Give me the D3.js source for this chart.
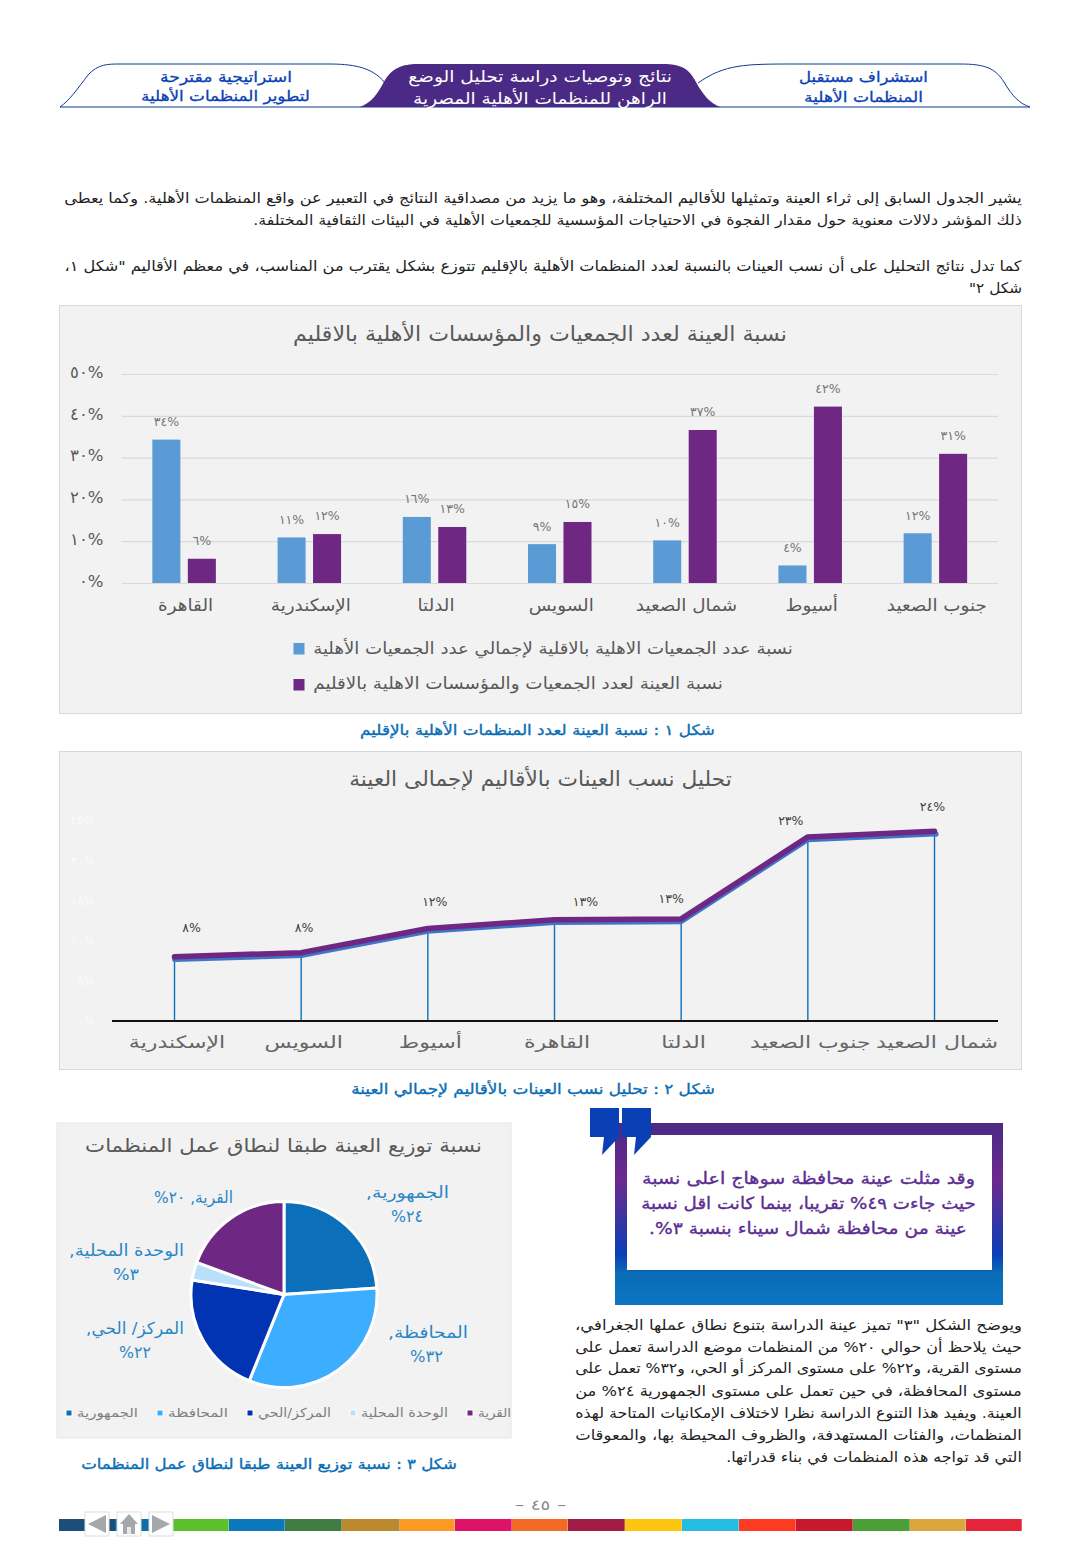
<!DOCTYPE html>
<html lang="ar"><head><meta charset="utf-8">
<script src="https://cdn.jsdelivr.net/npm/d3@7/dist/d3.min.js"></script>
<style>html,body{margin:0;padding:0;background:#fff}svg{display:block}text{font-family:"DejaVu Sans","Noto Sans",sans-serif}</style>
</head><body><svg id="page" width="1080" height="1560"></svg>
<script>
// ---- data ----
const regionsBar = ['القاهرة','الإسكندرية','الدلتا','السويس','شمال الصعيد','أسيوط','جنوب الصعيد'];
const orgShare = [34.3,10.9,15.8,9.3,10.2,4.2,11.9];
const sampleShare = [5.8,11.7,13.4,14.6,36.6,42.2,30.9];
const orgShareLabels = [34,11,16,9,10,4,12];
const sampleShareLabels = [6,12,13,15,37,42,31];
const barTicks = [0,10,20,30,40,50];
const seriesNames = ['نسبة عدد الجمعيات الاهلية بالاقلية لإجمالي عدد الجمعيات الأهلية','نسبة العينة لعدد الجمعيات والمؤسسات الاهلية بالاقليم'];

const regionsLine = ['الإسكندرية','السويس','أسيوط','القاهرة','الدلتا','جنوب الصعيد','شمال الصعيد'];
const linePurple = [8.0,8.5,11.5,12.6,12.7,22.9,23.6];
const lineBlue = [7.65,8.15,11.15,12.25,12.35,22.55,23.25];
const lineLabels = [8,8,12,13,13,23,24];
const lineTicks = [0,5,10,15,20,25];

const scopes = ['الجمهورية','المحافظة','المركز/ الحي','الوحدة المحلية','القرية'];
const scopeShares = [23.9,32.2,21.4,3.1,19.4];
const scopeLabels = [24,32,22,3,20];

// ---- styling / layout (not data) ----
const C = {purple:'#6e2783',blue:'#5b9bd5',grey:'#595959',cap:'#0a6db5',tab:'#0a3fb5',panel:'#f2f2f2',rule:'#d9d9d9',body:'#222'};
const pieColors = ['#0b70b9','#3dadff','#0233b3','#badffa','#6e2783'];
const barLabelDy = 18;
const lineLabelOffsets = [[17,-29],[3,-25],[7,-27],[31,-18],[-10,-20],[-17,-16],[-2,-25]];
const footerColors = ['#5bbf2e','#0b78bd','#3f7d45','#bb8a2f','#fb9b25','#dd1367','#f26a26','#a01c44','#fdc50f','#26bde2','#fd3a22','#c5192d','#4c9f38','#dba63c','#e5243b'];
const footerStarts = [172,229,285,342,400,455,512,568,625,682,739,796,853,910,966,1022];

const ar = v => String(v).replace(/\d/g, d => '٠١٢٣٤٥٦٧٨٩'[d]);
const svg = d3.select('#page');
const defs = svg.append('defs');
const grad = defs.append('linearGradient').attr('id','frame').attr('x1',0).attr('x2',0).attr('y1',0).attr('y2',1);
[[0,'#4c2a84'],[0.32,'#6b2a8e'],[0.72,'#0a3fb5'],[0.82,'#0a6ab5'],[1,'#0b76c4']].forEach(([o,c])=>grad.append('stop').attr('offset',o).attr('stop-color',c));

// text helper: right-to-left line fitted to span x0..x1 (the reference face is wide,
// so glyphs are stretched a little, then word spacing takes up what is left)
function line(str,x0,x1,y,size,fill,medium){
  const cx=(x0+x1)/2, W=x1-x0;
  const t = svg.append('text').attr('x',0).attr('y',y).attr('dy','.35em')
    .attr('text-anchor','middle').attr('direction','rtl').attr('font-size',size)
    .attr('fill',fill).text(str);
  if(medium) t.attr('stroke',fill).attr('stroke-width',medium);
  let len = t.node().getComputedTextLength();
  const sx = Math.max(0.92,Math.min(1.3,W/len));
  len *= sx;
  const sp = (str.match(/ /g)||[]).length;
  if(sp) t.style('word-spacing',((W-len)/sp/sx)+'px');
  t.attr('transform',`translate(${cx},0) scale(${sx},1)`);
  return t;
}

// ---- header tabs ----
const tabs = svg.append('g');
tabs.append('path').attr('d','M698,83 C725,64 745,64 796,64 L960,64 C985,64 995,68 1004,82 C1012,96 1020,104 1030,107 L60,107 C70,100 78,88 88,75 C98,64 108,64 120,64 L328,64 C350,64 372,66 385,83').attr('fill','none').attr('stroke','#0a3d91').attr('stroke-width',1);
tabs.append('path').attr('d','M360,107 C372,102 377,95 385,80 C394,66 405,64 420,64 L660,64 C678,64 688,66 696,82 C703,95 710,103 720,107 Z').attr('fill','#4b2a85');
line('استشراف مستقبل',799,928,77,14.5,C.tab,0.3);
line('المنظمات الأهلية',804,923,97,14.5,C.tab,0.3);
line('نتائج وتوصيات دراسة تحليل الوضع',408,672,76,16,'#fff');
line('الراهن للمنظمات الأهلية المصرية',413,667,98,16,'#fff');
line('استراتيجية مقترحة',160,292,77,14.5,C.tab,0.3);
line('لتطوير المنظمات الأهلية',141,310,96,14.5,C.tab,0.3);

// ---- intro paragraphs ----
line('يشير الجدول السابق إلى ثراء العينة وتمثيلها للأقاليم المختلفة، وهو ما يزيد من مصداقية النتائج في التعبير عن واقع المنظمات الأهلية. وكما يعطى',64,1022,198,14.5,C.body);
line('ذلك المؤشر دلالات معنوية حول مقدار الفجوة في الاحتياجات المؤسسية للجمعيات الأهلية في البيئات الثقافية المختلفة.',253,1022,220,14.5,C.body);
line('كما تدل نتائج التحليل على أن نسب العينات بالنسبة لعدد المنظمات الأهلية بالإقليم تتوزع بشكل يقترب من المناسب، في معظم الأقاليم "شكل ١،',64,1022,266,14.5,C.body);
line('شكل ٢"',969,1022,288,14.5,C.body);

// ---- chart 1: grouped bars ----
svg.append('rect').attr('x',59.5).attr('y',305.5).attr('width',962).attr('height',408).attr('fill',C.panel).attr('stroke',C.rule);
line('نسبة العينة لعدد الجمعيات والمؤسسات الأهلية بالاقليم',293,787,334,21,C.grey);
const x0 = d3.scaleBand().domain(regionsBar).range([121.5,998]);
const x1 = d3.scaleBand().domain([0,1]).range([0,x0.bandwidth()]).paddingInner(0.21).paddingOuter(0.87);
const y1 = d3.scaleLinear().domain([0,50]).range([583,374]);
const yAxis1 = svg.append('g').attr('transform','translate(121.5,0)')
  .call(d3.axisLeft(y1).tickValues(barTicks).tickSize(-876.5).tickPadding(18).tickFormat(d=>ar(d)+'%'));
yAxis1.select('.domain').remove();
yAxis1.selectAll('.tick line').attr('stroke',C.rule).attr('stroke-width',1.2);
yAxis1.selectAll('.tick text').attr('direction','ltr').attr('font-size',16.5).attr('fill',C.grey).attr('dy','.2em');
const barSeries = [{v:orgShare,l:orgShareLabels,c:C.blue},{v:sampleShare,l:sampleShareLabels,c:C.purple}];
barSeries.forEach((s,i)=>{
  const g = svg.append('g');
  g.selectAll('rect').data(regionsBar).join('rect')
    .attr('x',d=>x0(d)+x1(i)).attr('width',x1.bandwidth())
    .attr('y',(d,k)=>y1(s.v[k])).attr('height',(d,k)=>y1(0)-y1(s.v[k])).attr('fill',s.c);
  g.selectAll('text').data(regionsBar).join('text')
    .attr('x',d=>x0(d)+x1(i)+x1.bandwidth()/2).attr('y',(d,k)=>y1(s.v[k])-barLabelDy).attr('dy','.35em')
    .attr('text-anchor','middle').attr('direction','ltr').attr('font-size',12.5).attr('fill','#757575')
    .text((d,k)=>ar(s.l[k])+'%');
});
const xAxis1 = svg.append('g').attr('transform','translate(1.5,585)')
  .call(d3.axisBottom(x0).tickSize(0).tickPadding(14));
xAxis1.select('.domain').remove();
xAxis1.selectAll('.tick text').attr('font-size',17).attr('fill',C.grey).attr('direction','rtl').attr('transform','scale(1.08,1)');
[[293.5,643,313,793,648],[293.5,679,313,723,683]].forEach((r,i)=>{
  svg.append('rect').attr('x',r[0]).attr('y',r[1]).attr('width',11).attr('height',11.5).attr('fill',barSeries[i].c);
  line(seriesNames[i],r[2],r[3],r[4],16.5,C.grey);
});
line('شكل ١ : نسبة العينة لعدد المنظمات الأهلية بالإقليم',360,715,730,14.5,C.cap,0.35);

// ---- chart 2: lines ----
svg.append('rect').attr('x',59.5).attr('y',751.5).attr('width',962).attr('height',318).attr('fill',C.panel).attr('stroke',C.rule);
line('تحليل نسب العينات بالأقاليم لإجمالى العينة',349,732,779,21,C.grey);
const xL = d3.scalePoint().domain(regionsLine).range([174.5,934.5]);
const yL = d3.scaleLinear().domain([0,25]).range([1021,820]);
const yAxisL = svg.append('g').attr('transform','translate(112,0)')
  .call(d3.axisLeft(yL).tickValues(lineTicks).tickSize(0).tickPadding(17).tickFormat(d=>ar(d)+'%'));
yAxisL.select('.domain').remove();
yAxisL.selectAll('.tick text').attr('direction','ltr').attr('font-size',12).attr('fill','#fbfbfb');
svg.append('g').selectAll('line').data(regionsLine).join('line')
  .attr('x1',d=>xL(d)).attr('x2',d=>xL(d)).attr('y1',yL(0)).attr('y2',(d,i)=>yL(lineBlue[i]))
  .attr('stroke','#0b70b9').attr('stroke-width',1.4);
const lineGen = d3.line().x((d,i)=>xL(regionsLine[i])).y(d=>yL(d));
svg.append('path').attr('d',lineGen(lineBlue)).attr('fill','none').attr('stroke','#3f74c8').attr('stroke-width',5).attr('stroke-linecap','round').attr('stroke-linejoin','round');
svg.append('circle').attr('cx',xL(regionsLine[6])+1.5).attr('cy',yL(lineBlue[6])).attr('r',2.6).attr('fill','#3f74c8');
svg.append('path').attr('d',lineGen(linePurple)).attr('fill','none').attr('stroke',C.purple).attr('stroke-width',5.5).attr('stroke-linecap','round').attr('stroke-linejoin','round');
svg.append('g').selectAll('text').data(regionsLine).join('text')
  .attr('x',(d,i)=>xL(d)+lineLabelOffsets[i][0]).attr('y',(d,i)=>yL(linePurple[i])+lineLabelOffsets[i][1]).attr('dy','.35em')
  .attr('text-anchor','middle').attr('direction','ltr').attr('font-size',12.5).attr('fill','#404040')
  .text((d,i)=>ar(lineLabels[i])+'%');
const xAxisL = svg.append('g').attr('transform','translate(0,1021)')
  .call(d3.axisBottom(xL).tickSize(0).tickPadding(15));
xAxisL.select('.domain').attr('stroke','#111').attr('stroke-width',2).attr('d','M112,0H998');
xAxisL.selectAll('.tick text').attr('font-size',17).attr('fill','#666').attr('direction','rtl').attr('transform','translate(2,0) scale(1.3,1)');
line('شكل ٢ : تحليل نسب العينات بالأقاليم لإجمالي العينة',351,715,1089,14.5,C.cap,0.35);

// ---- chart 3: pie ----
svg.append('rect').attr('x',57).attr('y',1123).attr('width',454).attr('height',315).attr('fill',C.panel).attr('stroke','#e6e6e6');
line('نسبة توزيع العينة طبقا لنطاق عمل المنظمات',85,482,1145,19,C.grey);
const pie = d3.pie().sort(null).value(d=>d)(scopeShares);
const arc = d3.arc().innerRadius(0).outerRadius(93);
const pieG = svg.append('g').attr('transform','translate(284,1294.5)');
pieG.selectAll('path').data(pie).join('path').attr('d',arc).attr('fill',(d,i)=>pieColors[i]).attr('stroke','#fff').attr('stroke-width',3);
const pieNameBoxes = [[366,449,1192],[388,468,1332],[86,184,1328],[69,184,1250],[154,233,1197]];
const pieValueBoxes = [[391,423,1216],[410,443,1356],[119,151,1352],[113,139,1274],null];
const pieText = '#2a86c6';
pieNameBoxes.forEach((b,i)=>{
  const val = ar(scopeLabels[i])+'%';
  if(pieValueBoxes[i]){
    line(scopes[i]+',',b[0],b[1],b[2],16.5,pieText);
    const v = pieValueBoxes[i];
    line(val,v[0],v[1],v[2],16.5,pieText);
  } else line(scopes[i]+', '+val,b[0],b[1],b[2],16.5,pieText);
});
const legendPos = [[66,77,138],[157,168,228],[247,258,331],[350,361,448],[467,478,511]];
legendPos.forEach((p,i)=>{
  svg.append('rect').attr('x',p[0]).attr('y',1410).attr('width',6).attr('height',6).attr('fill',pieColors[i]).attr('stroke','#fff').attr('stroke-width',1);
  line(scopes[i].replace('/ ','/'),p[1],p[2],1413,12.5,'#7f7f7f');
});
line('شكل ٣ : نسبة توزيع العينة طبقا لنطاق عمل المنظمات',81,457,1464,14.5,C.cap,0.35);

// ---- call-out ----
svg.append('path').attr('fill-rule','evenodd').attr('fill','url(#frame)').attr('d','M615,1123H1003V1305H615Z M627,1135V1270H992V1135Z');
svg.append('path').attr('fill','#0a3fb5').attr('d','M590,1108H619V1137L602,1155L604,1137H590Z M622,1108H651V1137L634,1155L636,1137H622Z');
line('وقد مثلت عينة محافظة سوهاج اعلى نسبة',642,975,1178,16.5,'#5b2d90',0.35);
line('حيث جاءت ٤٩% تقريبا، بينما كانت اقل نسبة',641,976,1203,16.5,'#5b2d90',0.35);
line('عينة من محافظة شمال سيناء بنسبة ٣%.',649,967,1228,16.5,'#5b2d90',0.35);

// ---- body text ----
[['ويوضح الشكل "٣" تميز عينة الدراسة بتنوع نطاق عملها الجغرافي،',575,1325],
 ['حيث يلاحظ أن حوالي ٢٠% من المنظمات موضع الدراسة تعمل على',575,1347],
 ['مستوى القرية، و٢٢% على مستوى المركز أو الحي، و٣٢% تعمل على',575,1368],
 ['مستوى المحافظة، في حين تعمل على مستوى الجمهورية ٢٤% من',575,1391],
 ['العينة. ويفيد هذا التنوع الدراسة نظرا لاختلاف الإمكانيات المتاحة لهذه',575,1413],
 ['المنظمات، والفئات المستهدفة، والظروف المحيطة بها، والمعوقات',575,1435],
 ['التي قد تواجه هذه المنظمات في بناء قدراتها.',726,1457]
].forEach(r=>line(r[0],r[1],1022,r[2],14.5,C.body));

// ---- footer ----
line('– ٤٥ –',515,566,1505,14,'#888');
svg.append('rect').attr('x',59).attr('y',1519).attr('width',56).attr('height',12).attr('fill','#1b4f7a');
svg.append('rect').attr('x',115).attr('y',1519).attr('width',57).attr('height',12).attr('fill','#0b6ea8');
svg.append('g').selectAll('rect').data(footerColors).join('rect')
  .attr('x',(d,i)=>footerStarts[i]).attr('y',1519).attr('width',(d,i)=>footerStarts[i+1]-footerStarts[i]-0.3).attr('height',12).attr('fill',d=>d);
[[85,109],[117,141],[149,173]].forEach(b=>svg.append('rect').attr('x',b[0]).attr('y',1512).attr('width',b[1]-b[0]).attr('height',24).attr('fill','#fff').attr('stroke','#ddd'));
svg.append('path').attr('fill','#a5a8aa').attr('d','M88,1524L106,1515V1533Z M170,1524L152,1515V1533Z M129,1514L138,1524H135V1534H123V1524H120Z');
svg.append('rect').attr('x',127).attr('y',1527).attr('width',4).attr('height',7).attr('fill','#e8e8e8');
</script></body></html>
